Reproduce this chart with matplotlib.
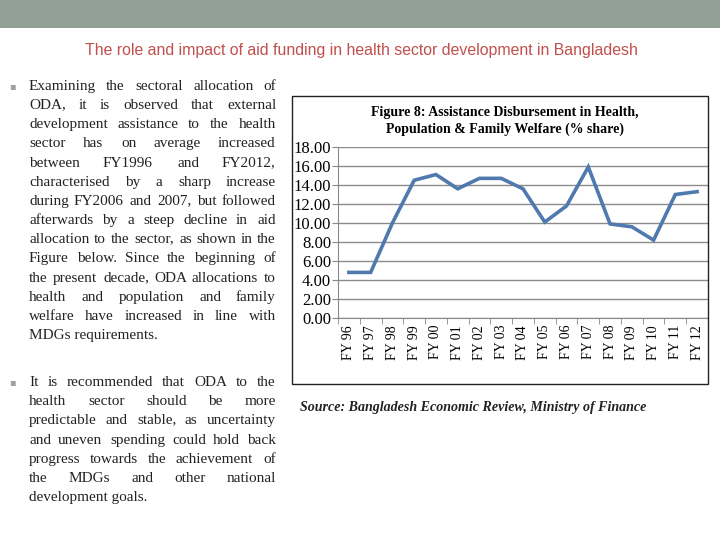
import math
import matplotlib
matplotlib.use('Agg')
import matplotlib.pyplot as plt
import matplotlib.patches as mpatches
import numpy as np
from matplotlib.font_manager import FontProperties

# ── Data ──────────────────────────────────────────────────────────────────────
years = ['FY 96', 'FY 97', 'FY 98', 'FY 99', 'FY 00', 'FY 01', 'FY 02', 'FY 03',
         'FY 04', 'FY 05', 'FY 06', 'FY 07', 'FY 08', 'FY 09', 'FY 10', 'FY 11', 'FY 12']
share = [4.8, 4.8, 10.0, 14.5, 15.1, 13.6, 14.7, 14.7,
         13.6, 10.1, 11.8, 15.9, 9.9, 9.6, 8.2, 13.0, 13.3]
y_ticks = [0, 2, 4, 6, 8, 10, 12, 14, 16, 18]

slide_title = 'The role and impact of aid funding in health sector development in Bangladesh'
chart_title = 'Figure 8: Assistance Disbursement in Health,\nPopulation & Family Welfare (% share)'
source_note = 'Source: Bangladesh Economic Review, Ministry of Finance'

bullet1 = [
    'Examining the sectoral allocation of',
    'ODA, it is observed that external',
    'development assistance to the health',
    'sector has on average increased',
    'between FY1996 and FY2012,',
    'characterised by a sharp increase',
    'during FY2006 and 2007, but followed',
    'afterwards by a steep decline in aid',
    'allocation to the sector, as shown in the',
    'Figure below.  Since the beginning of',
    'the present decade, ODA allocations to',
    'health and population and family',
    'welfare have increased in line with',
    'MDGs requirements.',
]
bullet2 = [
    'It is recommended that ODA to the',
    'health sector should be more',
    'predictable and stable, as uncertainty',
    'and uneven spending could hold back',
    'progress towards the achievement of',
    'the MDGs and other national',
    'development goals.',
]

W, H = 720, 540
fig = plt.figure(figsize=(7.2, 5.4), dpi=100)
fig.patch.set_facecolor('white')


def px(x, y):
    return x / W, 1 - y / H


# top band + slide title
fig.add_artist(mpatches.Rectangle((0, 1 - 28 / H), 1, 28 / H, transform=fig.transFigure,
                                  facecolor='#92A097', edgecolor='none'))
fig.text(*px(361, 51), slide_title, ha='center', va='center', fontsize=11.4,
         family='Liberation Sans', color='#C0504D')

renderer = fig.canvas.get_renderer()
TXT = dict(fontsize=11.0, family='Liberation Serif', color='#222222', va='baseline')
BODY_FONT = FontProperties(family='Liberation Serif', size=11.0)


def baseline_shift(word):
    # Agg snaps each word bitmap to whole pixels from its own descent, so words
    # with different descenders land 1px apart; work out that offset here.
    try:
        from matplotlib.backends.backend_agg import get_hinting_flag
        font = renderer._prepare_font(BODY_FONT)
        font.set_text(word, 0.0, flags=get_hinting_flag())
        font.draw_glyphs_to_bitmap(antialiased=True)
        d = font.get_descent() / 64.0
        _, h = font.get_width_height()
        _, yo = font.get_bitmap_offset()
        ymax = (h / 64.0) - d
        himg = np.asarray(font.get_image()).shape[0]
        return round(yo / 64.0 + d) + 1 - himg + math.floor(ymax) + 1
    except Exception:
        return 0


def justified(lines, x0, x1, y0, dy):
    ref = baseline_shift('x')
    for i, line in enumerate(lines):
        y = round(y0 + i * dy + 4)
        words = line.split()
        if i == len(lines) - 1 or len(words) == 1:
            words = [' '.join(words)]
        arts = []
        for w in words:
            yy = y - baseline_shift(w) + ref
            arts.append(fig.text(0, px(0, yy)[1], w, ha='left', **TXT))
        if len(arts) == 1:
            arts[0].set_x(x0 / W)
            continue
        widths = [a.get_window_extent(renderer).width for a in arts]
        gap = (x1 - x0 - sum(widths)) / (len(words) - 1)
        x = x0
        for a, w in zip(arts, widths):
            a.set_x(round(x) / W)
            x += w + gap


fig.text(*px(12, 86), '\u25aa', ha='center', va='center', fontsize=7, color='#A0A0A0')
justified(bullet1, 29, 276, 86, 19.15)
fig.text(*px(12, 382), '\u25aa', ha='center', va='center', fontsize=7, color='#A0A0A0')
justified(bullet2, 29, 276, 382, 19.2)

# chart frame
fig.add_artist(mpatches.Rectangle(px(292, 384), 416 / W, 288 / H, transform=fig.transFigure,
                                  facecolor='none', edgecolor='#222222', linewidth=1.0))
fig.text(*px(505, 121), chart_title, ha='center', va='center', fontsize=10.0,
         family='Liberation Serif', weight='bold', linespacing=1.3, color='black')

# ── Plot ──────────────────────────────────────────────────────────────────────
ax = fig.add_axes([338 / W, 1 - 318 / H, 370 / W, 171 / H])
xs = list(range(len(years)))
ax.plot(xs, share, color='#5079AE', linewidth=2.6, solid_joinstyle='miter')
ax.set_xlim(-0.5, len(years) - 0.5)
ax.set_ylim(0, 18)
ax.set_yticks(y_ticks)
ax.set_yticklabels([f'{v:.2f}' for v in y_ticks], family='Liberation Serif', fontsize=12)
ax.set_xticks(xs)
ax.set_xticklabels(years, rotation=90, family='Liberation Serif', fontsize=10)
ax.set_xticks([x - 0.5 for x in range(len(years) + 1)], minor=True)
ax.tick_params(axis='x', which='major', length=0, pad=5)
ax.tick_params(axis='x', which='minor', length=4, color='#888888')
ax.tick_params(axis='y', length=4, color='#888888', pad=1)
ax.grid(axis='y', color='#8C8C8C', linewidth=1.0)
ax.set_axisbelow(True)
for side in ['top', 'right']:
    ax.spines[side].set_visible(False)
for side in ['left', 'bottom']:
    ax.spines[side].set_color('#888888')
ax.patch.set_alpha(0)

fig.text(*px(300, 408), source_note, ha='left', va='center', fontsize=10.1,
         family='Liberation Serif', weight='bold', style='italic', color='#222222')

fig.savefig('out.png', dpi=100)
